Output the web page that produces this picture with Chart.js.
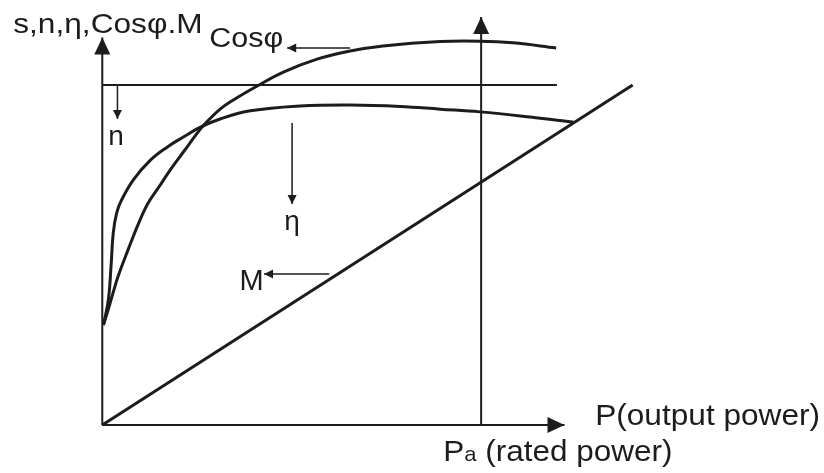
<!DOCTYPE html>
<html>
<head>
<meta charset="utf-8">
<script src="https://cdn.jsdelivr.net/npm/chart.js@4.4.1/dist/chart.umd.min.js"></script>
<style>
html,body{margin:0;padding:0;background:#fff;}
#wrap{width:824px;height:473px;}
</style>
</head>
<body>
<div id="wrap"><canvas id="c" width="824" height="473"></canvas></div>
<script>
/* ===== DATA (P in % of rated power, y in % of the n level) ===== */
const etaP   =[0.3,1.6,2.3,2.9,3.8,5.1,8.2,12.7,17.2,21.4,25.9,31.1,39.1,52.2,65.4,78.6,89.2,99.7,112.9,124.3];
const etaVal =[29.4,36.8,46.5,56.5,62.4,66.2,72.1,77.9,81.8,84.7,87.6,90.0,92.4,93.8,94.1,93.7,92.9,92.1,90.6,89.1];
const cosP   =[0.3,1.6,2.9,4.2,6.9,9.5,12.1,15.3,17.9,21.4,25.1,26.7,31.1,34.6,40.9,47.8,56.7,65.4,74.1,89.2,99.7,108.4,119.8];
const cosVal =[29.4,34.1,39.1,43.8,51.8,59.1,65.3,70.6,75.0,80.3,85.9,88.1,92.9,95.6,99.7,103.8,107.6,110.0,111.5,112.8,112.9,112.4,110.9];
const torqueP=[0,140];
const torqueVal=[0,100];
const speedP=[0,120];
const speedVal=[100,100];
const ratedP=100;

// arrows: [x0,y0,x1,y1], tip at (x1,y1)
const axisArrows=[[0,0,122,0],[0,0,0,114],[ratedP,0,ratedP,120]];
const pointerArrows=[[65.4,110.9,48.8,110.9],[4.0,100,4.0,90],[50.1,88.8,50.1,65],[59.9,44.4,42.7,44.4]];

const labels=[
  {t:'s,n,\u03b7,Cos\u03c6.M',x:-23.5,y:115.3,align:'left',size:28,sx:1.13},
  {t:'Cos\u03c6',x:28.2,y:111.2,align:'left',size:27,sx:1.13},
  {t:'n',x:1.6,y:82.4,align:'left',size:28,sx:1},
  {t:'\u03b7',x:50.1,y:57.4,align:'center',size:28,sx:1},
  {t:'M',x:42.6,y:39.7,align:'right',size:29,sx:1},
  {t:'P(output power)',x:130.1,y:0,align:'left',size:29,sx:1.09}
];
const ratedLabel={x:90,y:-10.6};

const INK='#1c1c1c';
const FONT='"Liberation Sans", Arial, sans-serif';

const toXY=(xs,ys)=>xs.map((x,i)=>({x,y:ys[i]}));
const seg=(a)=>[{x:a[0],y:a[1]},{x:a[2],y:a[3]}];

const datasets=[
  {data:toXY(etaP,etaVal),borderWidth:3,tension:0.4},
  {data:toXY(cosP,cosVal),borderWidth:3,tension:0.4},
  {data:toXY(torqueP,torqueVal),borderWidth:3},
  {data:toXY(speedP,speedVal),borderWidth:2},
  ...axisArrows.map(a=>({data:seg(a),borderWidth:2})),
  ...pointerArrows.map(a=>({data:seg(a),borderWidth:1.5}))
].map(d=>({...d,showLine:true,pointRadius:0,borderColor:INK,fill:false}));

function head(ctx,sx,sy,tx,ty,len,half){
  const ang=Math.atan2(ty-sy,tx-sx);
  ctx.beginPath();
  ctx.moveTo(tx,ty);
  ctx.lineTo(tx-len*Math.cos(ang)+half*Math.sin(ang),ty-len*Math.sin(ang)-half*Math.cos(ang));
  ctx.lineTo(tx-len*Math.cos(ang)-half*Math.sin(ang),ty-len*Math.sin(ang)+half*Math.cos(ang));
  ctx.closePath();ctx.fill();
}

function stretchedText(ctx,t,x,y,sx){
  ctx.save();ctx.translate(x,y);ctx.scale(sx,1);ctx.fillText(t,0,0);ctx.restore();
}

const decor={
  id:'decor',
  afterDatasetsDraw(chart){
    const {ctx,scales:{x,y}}=chart;
    const px=v=>x.getPixelForValue(v),py=v=>y.getPixelForValue(v);
    ctx.save();
    ctx.fillStyle=INK;
    axisArrows.forEach(a=>head(ctx,px(a[0]),py(a[1]),px(a[2]),py(a[3]),17,8));
    pointerArrows.forEach(a=>head(ctx,px(a[0]),py(a[1]),px(a[2]),py(a[3]),9,4.5));
    ctx.textBaseline='alphabetic';
    labels.forEach(l=>{
      ctx.font=l.size+'px '+FONT;
      ctx.textAlign=l.align;
      stretchedText(ctx,l.t,px(l.x),py(l.y),l.sx);
    });
    // rated power label, smaller "a" after the P
    ctx.textAlign='left';
    let cx=px(ratedLabel.x);const by=py(ratedLabel.y),k=1.05;
    ctx.font='30px '+FONT;stretchedText(ctx,'P',cx,by,k);cx+=ctx.measureText('P').width*k;
    ctx.font='21px '+FONT;stretchedText(ctx,'a',cx,by,k);cx+=ctx.measureText('a').width*k;
    ctx.font='30px '+FONT;stretchedText(ctx,' (rated power)',cx,by,k);
    ctx.restore();
  }
};

new Chart(document.getElementById('c'),{
  type:'scatter',
  data:{datasets},
  options:{
    responsive:false,animation:false,devicePixelRatio:1,
    layout:{padding:0},
    plugins:{legend:{display:false},tooltip:{enabled:false}},
    scales:{
      x:{type:'linear',min:-27,max:190.5,display:false},
      y:{type:'linear',min:-14.1,max:125,display:false}
    }
  },
  plugins:[decor]
});
</script>
</body>
</html>
